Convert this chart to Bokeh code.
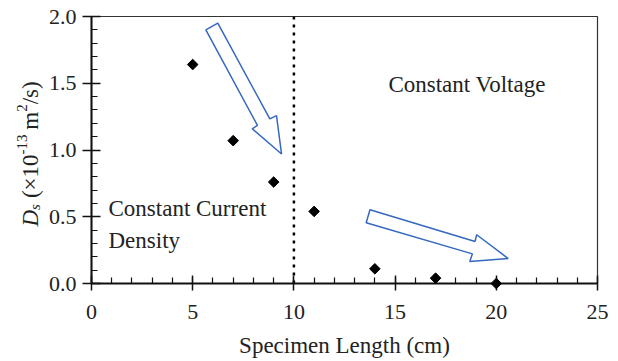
import math
from bokeh.plotting import figure
from bokeh.models import Range1d, SingleIntervalTicker, Label, CustomJSTickFormatter
from bokeh.core.properties import value
from bokeh.embed import file_html
from bokeh.resources import INLINE

# data
length_cm = [5, 7, 9, 11, 14, 17, 20]
ds_values = [1.64, 1.07, 0.76, 0.54, 0.11, 0.04, 0.0]
divider_x = [10, 10]
divider_y = [0.0, 2.0]

# arrow outlines (data coordinates)
arrow1_x = [5.65, 6.24, 8.81, 9.14, 9.39, 7.94, 8.20]
arrow1_y = [1.90, 1.95, 1.233, 1.258, 0.97, 1.159, 1.184]
arrow2_x = [13.76, 18.95, 19.03, 20.59, 18.69, 18.82, 13.57]
arrow2_y = [0.552, 0.315, 0.365, 0.187, 0.165, 0.222, 0.455]

x_label = "Specimen Length (cm)"
# y label pieces: text, size(px), style, baseline shift(px, + = raised), advance(px)
y_label_parts = [("D", 23, "italic", 0, 16.6), ("s", 15, "italic", -4, 6.0),
                 (None, 0, "", 0, 5.8), ("(×10", 23, "normal", 0, 43.6),
                 ("-13", 15, "normal", 9, 19.0), (None, 0, "", 0, 5.8),
                 ("m", 23, "normal", 0, 17.9), ("2", 15, "normal", 9, 7.5),
                 ("/s)", 23, "normal", 0, 23.0)]
notes = [("Constant Voltage", 14.67, 1.49),
         ("Constant Current", 0.84, 0.56),
         ("Density", 0.84, 0.32)]

FONT = "Liberation Serif"
W, H = 618, 361
BL, BR, BT, BB = 91, 21, 16, 78
X0, X1, Y0, Y1 = 0, 25, 0, 2.0
fw, fh = W - BL - BR, H - BT - BB

p = figure(width=W, height=H, output_backend="svg", toolbar_location=None,
           x_range=Range1d(X0, X1), y_range=Range1d(Y0, Y1),
           min_border_left=BL, min_border_right=BR, min_border_top=BT, min_border_bottom=BB)
p.grid.visible = False
p.background_fill_color = "white"
p.border_fill_color = "white"
p.outline_line_color = "#333333"
p.outline_line_width = 1.2

p.xaxis.ticker = SingleIntervalTicker(interval=5, num_minor_ticks=5)
p.yaxis.ticker = SingleIntervalTicker(interval=0.5, num_minor_ticks=5)
p.yaxis.formatter = CustomJSTickFormatter(code="return tick.toFixed(1);")

for ax in (p.xaxis[0], p.yaxis[0]):
    ax.axis_line_width = 2
    ax.axis_line_color = "#111111"
    ax.major_tick_line_width = 1.5
    ax.major_tick_line_color = "#111111"
    ax.minor_tick_line_width = 1.2
    ax.minor_tick_line_color = "#111111"
    ax.minor_tick_out = 0
    ax.minor_tick_in = 6
    ax.major_label_text_font = FONT
    ax.major_label_text_font_size = "22px"
    ax.major_label_text_color = "#222222"
    ax.axis_label_text_font = FONT
    ax.axis_label_text_font_size = "23px"
    ax.axis_label_text_font_style = "normal"
    ax.axis_label_text_color = "#222222"

p.xaxis.major_tick_in = 8
p.xaxis.major_tick_out = 7
p.xaxis.major_label_standoff = 14
p.xaxis.axis_label = x_label
p.xaxis.axis_label_standoff = 11

p.yaxis.major_tick_in = 9
p.yaxis.major_tick_out = 9
p.yaxis.major_label_standoff = 6


def px_to_x(px):
    return X0 + (px - BL) * (X1 - X0) / fw


def py_to_y(py):
    return Y0 + (BT + fh - py) * (Y1 - Y0) / fh


# rotated y-axis label built from pieces (italic D, sub/superscripts)
base_px = 30.0
cursor = 226.0
for txt, size, style, shift, adv in y_label_parts:
    if txt is not None:
        tr = p.text(x=[px_to_x(base_px - shift)], y=[py_to_y(cursor)], text=[txt],
                    angle=math.pi / 2, text_font=value(FONT), text_font_size=value(f"{size}px"),
                    text_font_style=style, text_color="#222222",
                    text_align="left", text_baseline="alphabetic")
        tr.level = "overlay"
    cursor -= adv

# dotted divider
p.line(divider_x, divider_y, line_color="black", line_width=2.5, line_dash="3 5")

# arrows
for ax_, ay_ in ((arrow1_x, arrow1_y), (arrow2_x, arrow2_y)):
    p.patch(ax_, ay_, fill_color="white", fill_alpha=1.0, line_color="#3568c0", line_width=1.5)

# data points
r = p.scatter(length_cm, ds_values, marker="square", size=7.5, angle=math.pi / 4,
              fill_color="black", line_color="black")
r.level = "overlay"

# annotations
for txt, x, y in notes:
    p.add_layout(Label(x=x, y=y, text=txt, text_font=FONT, text_font_size="23px",
                       text_color="#222222", text_baseline="middle", text_align="left"))

open("out.html", "w").write(file_html(p, INLINE))
